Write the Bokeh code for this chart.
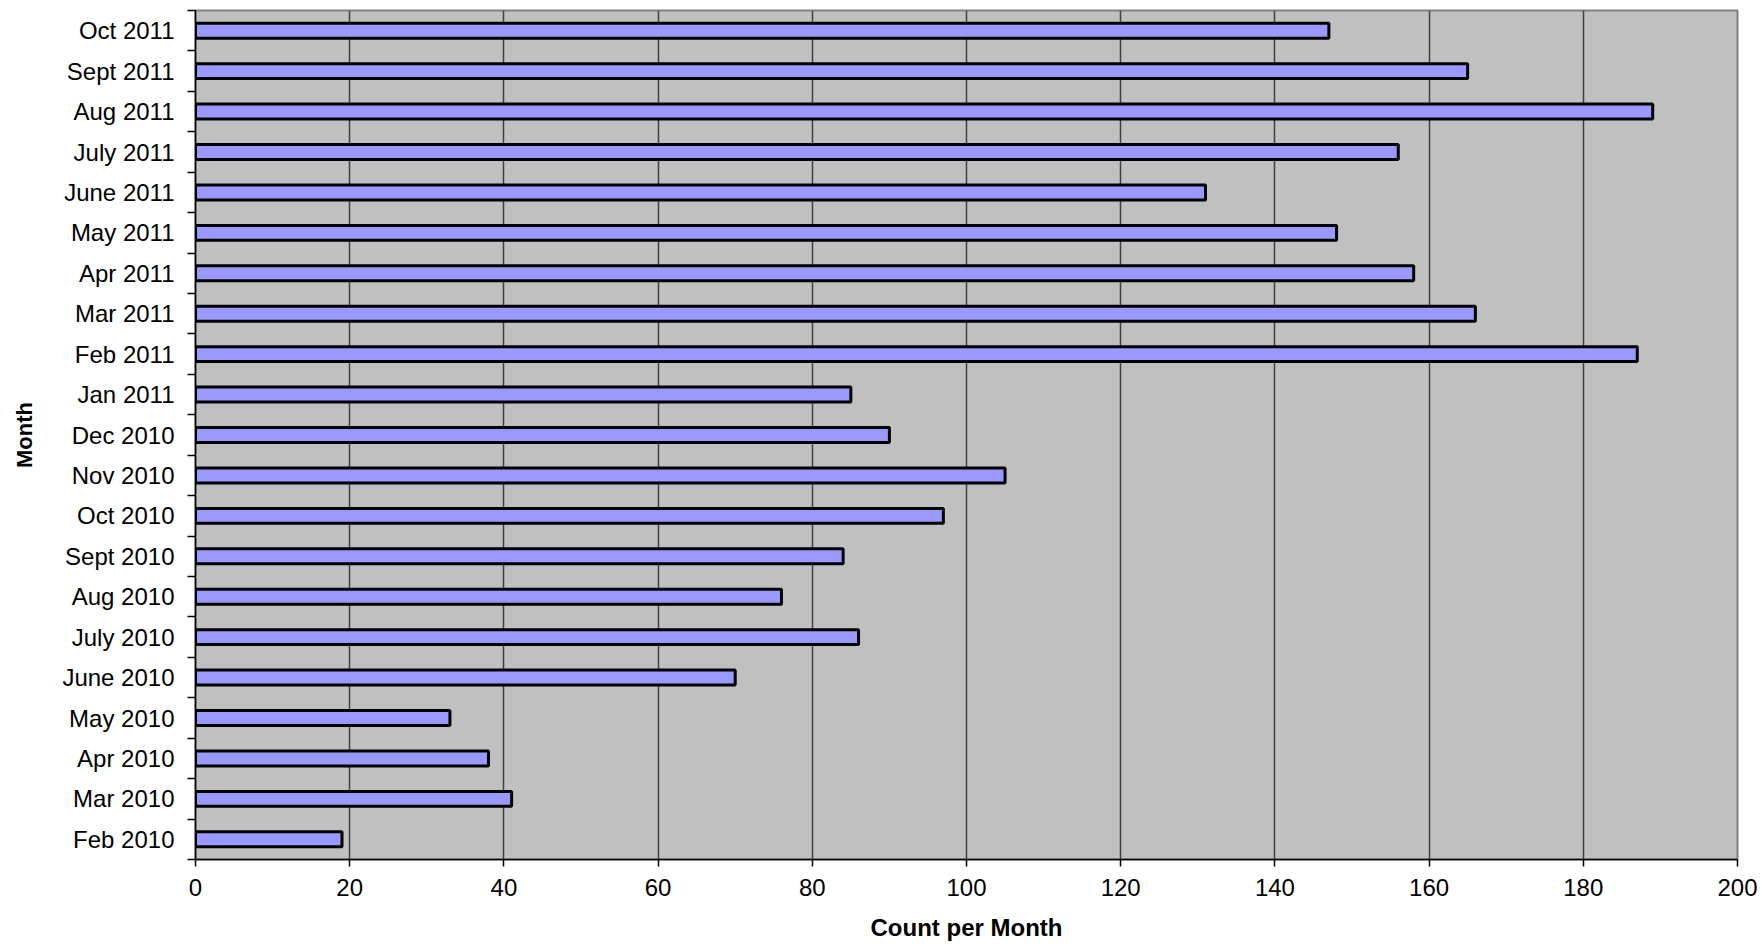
from bokeh.plotting import figure
from bokeh.models import Range1d, FixedTicker
from bokeh.embed import file_html
from bokeh.resources import INLINE

months = ["Feb 2010", "Mar 2010", "Apr 2010", "May 2010", "June 2010", "July 2010",
          "Aug 2010", "Sept 2010", "Oct 2010", "Nov 2010", "Dec 2010", "Jan 2011",
          "Feb 2011", "Mar 2011", "Apr 2011", "May 2011", "June 2011", "July 2011",
          "Aug 2011", "Sept 2011", "Oct 2011"]
counts = [19, 41, 38, 33, 70, 86, 76, 84, 97, 105, 90, 85,
          187, 166, 158, 148, 131, 156, 189, 165, 147]
x_ticks = [0, 20, 40, 60, 80, 100, 120, 140, 160, 180, 200]

positions = list(range(1, len(months) + 1))

p = figure(width=1758, height=944, output_backend="svg", toolbar_location=None,
           x_range=Range1d(0, 200), y_range=Range1d(0.5, len(months) + 0.5),
           min_border_left=195, min_border_top=10, min_border_right=21, min_border_bottom=85)

p.background_fill_color = "#C0C0C0"
p.border_fill_color = "white"
p.outline_line_color = "#808080"
p.outline_line_width = 2

p.hbar(y=positions, right=counts, left=0, height=0.37,
       fill_color="#9999FF", line_color="black", line_width=3)

font = "Liberation Sans"

# x axis
xa = p.xaxis[0]
xa.ticker = FixedTicker(ticks=x_ticks)
xa.axis_label = "Count per Month"
xa.axis_label_text_font = font
xa.axis_label_text_font_style = "bold"
xa.axis_label_text_font_size = "24px"
xa.axis_label_text_color = "black"
xa.axis_label_standoff = 15
xa.major_label_text_font = font
xa.major_label_text_font_size = "24px"
xa.major_label_text_color = "black"
xa.major_label_standoff = 12
xa.major_tick_out = 7
xa.major_tick_in = 0
xa.minor_tick_out = 0
xa.minor_tick_in = 0
xa.axis_line_color = "black"
xa.axis_line_width = 1.5
xa.major_tick_line_color = "black"
xa.major_tick_line_width = 1.5

# y axis
ya = p.yaxis[0]
ya.ticker = FixedTicker(ticks=positions, minor_ticks=[i + 0.5 for i in range(0, len(months) + 1)])
ya.major_label_overrides = {pos: m for pos, m in zip(positions, months)}
ya.axis_label = "Month"
ya.axis_label_text_font = font
ya.axis_label_text_font_style = "bold"
ya.axis_label_text_font_size = "22px"
ya.axis_label_text_color = "black"
ya.axis_label_standoff = 22
ya.major_label_text_font = font
ya.major_label_text_font_size = "24px"
ya.major_label_text_color = "black"
ya.major_label_standoff = 13
ya.major_tick_out = 0
ya.major_tick_in = 0
ya.minor_tick_out = 8
ya.minor_tick_in = 0
ya.minor_tick_line_color = "black"
ya.minor_tick_line_width = 1.5
ya.axis_line_color = "black"
ya.axis_line_width = 1.5

p.xgrid.grid_line_color = "#404040"
p.xgrid.grid_line_width = 1.5
p.ygrid.grid_line_color = None

open("out.html", "w").write(file_html(p, INLINE))
